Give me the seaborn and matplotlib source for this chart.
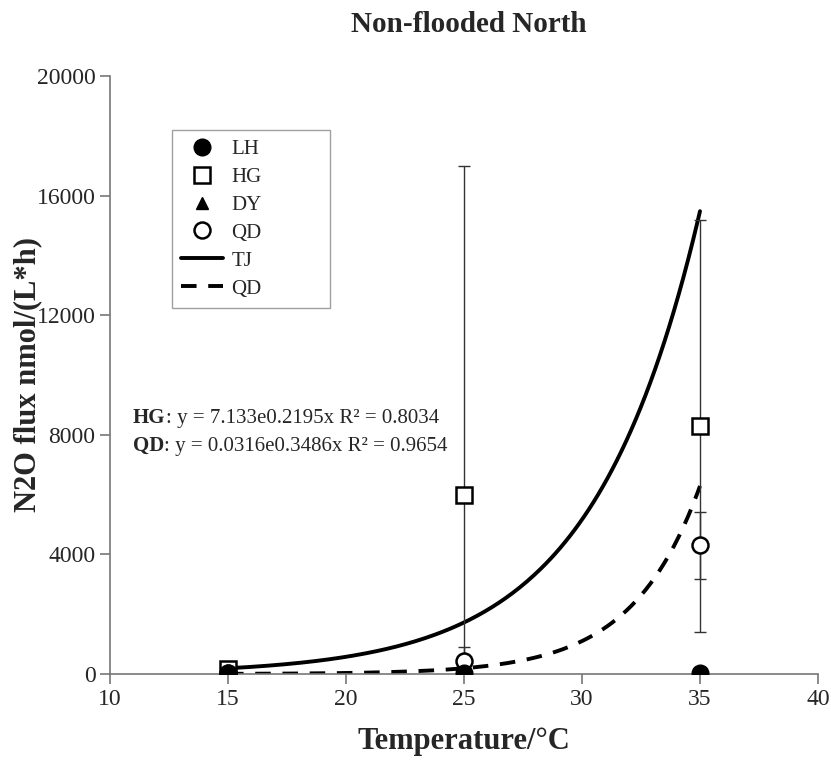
import numpy as np
import pandas as pd
import matplotlib
matplotlib.use('Agg')
import matplotlib.pyplot as plt
import seaborn as sns
from matplotlib.lines import Line2D

# data
temps = [15, 25, 35]
lh = [20, 40, 30]
hg = [170, 6000, 8300]
hg_err = [0, 11000, 6900]
dy = [10, 20, 20]
qd = [40, 450, 4300]
qd_err = [0, 450, 1120]

# fitted exponential trendlines y = a*exp(b*x)
hg_a, hg_b = 7.133, 0.2195
qd_a, qd_b = 0.0316, 0.3486
fit_x = np.linspace(15, 35, 200)

sns.set_theme(style="ticks")
plt.rcParams['font.family'] = ['Liberation Serif', 'DejaVu Serif']

fig = plt.figure(figsize=(8.31, 7.6), dpi=100)
ax = fig.add_axes([110 / 831, 86 / 760, 708 / 831, 598 / 760])

fits = pd.DataFrame({
    'x': np.concatenate([fit_x, fit_x]),
    'y': np.concatenate([hg_a * np.exp(hg_b * fit_x), qd_a * np.exp(qd_b * fit_x)]),
    'fit': ['TJ'] * len(fit_x) + ['QD fit'] * len(fit_x),
})
sns.lineplot(data=fits, x='x', y='y', style='fit', dashes={'TJ': '', 'QD fit': (4, 3)},
             color='black', linewidth=2.8, legend=False, ax=ax)

# error bars
ax.errorbar(temps, hg, yerr=hg_err, fmt='none', ecolor='#333333', elinewidth=1.0, capsize=4, capthick=1.0, zorder=3)
ax.errorbar(temps, qd, yerr=qd_err, fmt='none', ecolor='#333333', elinewidth=1.0, capsize=4, capthick=1.0, zorder=3)

ax.plot(temps, hg, ls='none', marker='s', ms=11.5, mfc='white', mec='black', mew=1.8, zorder=4)
ax.plot(temps, qd, ls='none', marker='o', ms=11.5, mfc='white', mec='black', mew=1.8, zorder=5)
ax.plot(temps, dy, ls='none', marker='^', ms=9, mfc='black', mec='black', zorder=6)
ax.plot(temps, lh, ls='none', marker='o', ms=12, mfc='black', mec='black', zorder=7)

ax.set_xlim(10, 40)
ax.set_ylim(0, 20000)
ax.set_xticks(range(10, 41, 5))
ax.set_yticks(range(0, 20001, 4000))
ax.tick_params(axis='both', labelsize=17, length=7, width=1.2, color='#777777')
ax.tick_params(axis='x', pad=4)
sns.despine(ax=ax)
for s in ['left', 'bottom']:
    ax.spines[s].set_color('#777777')
    ax.spines[s].set_linewidth(1.2)

ax.set_xlabel('Temperature/°C', fontsize=22, fontweight='bold', labelpad=12)
ax.set_ylabel('N2O flux nmol/(L*h)', fontsize=22, fontweight='bold', labelpad=-4)
fig.text(469 / 831, 1 - 25 / 760, 'Non-flooded North', ha='center', va='center',
         fontsize=21, fontweight='bold')

# equations
t1 = ax.text(133 / 831, 1 - 418 / 760, 'HG', transform=fig.transFigure, fontsize=15,
             fontweight='bold', va='center')
ax.annotate(': y = 7.133e0.2195x R² = 0.8034', xy=(1, 0), xycoords=t1, va='bottom', fontsize=15)
t2 = ax.text(133 / 831, 1 - 446 / 760, 'QD', transform=fig.transFigure, fontsize=15,
             fontweight='bold', va='center')
ax.annotate(': y = 0.0316e0.3486x R² = 0.9654', xy=(1, 0), xycoords=t2, va='bottom', fontsize=15)

handles = [
    Line2D([], [], ls='none', marker='o', ms=12, mfc='black', mec='black'),
    Line2D([], [], ls='none', marker='s', ms=11.5, mfc='white', mec='black', mew=1.8),
    Line2D([], [], ls='none', marker='^', ms=9, mfc='black', mec='black'),
    Line2D([], [], ls='none', marker='o', ms=11.5, mfc='white', mec='black', mew=1.8),
    Line2D([], [], color='black', lw=2.8),
    Line2D([], [], color='black', lw=2.8, ls=(0, (4, 3))),
]
leg = fig.legend(handles, ['LH', 'HG', 'DY', 'QD', 'TJ', 'QD'], loc='upper left',
                 bbox_to_anchor=(172 / 831, 1 - 130 / 760, 158 / 831, 0), mode='expand',
                 fontsize=15, frameon=True, fancybox=False, edgecolor='#888888',
                 borderaxespad=0, borderpad=0.45, handlelength=2.0, handletextpad=0.4,
                 labelspacing=0.4)
leg.get_frame().set_linewidth(1.0)

fig.savefig('out.png', dpi=100)
